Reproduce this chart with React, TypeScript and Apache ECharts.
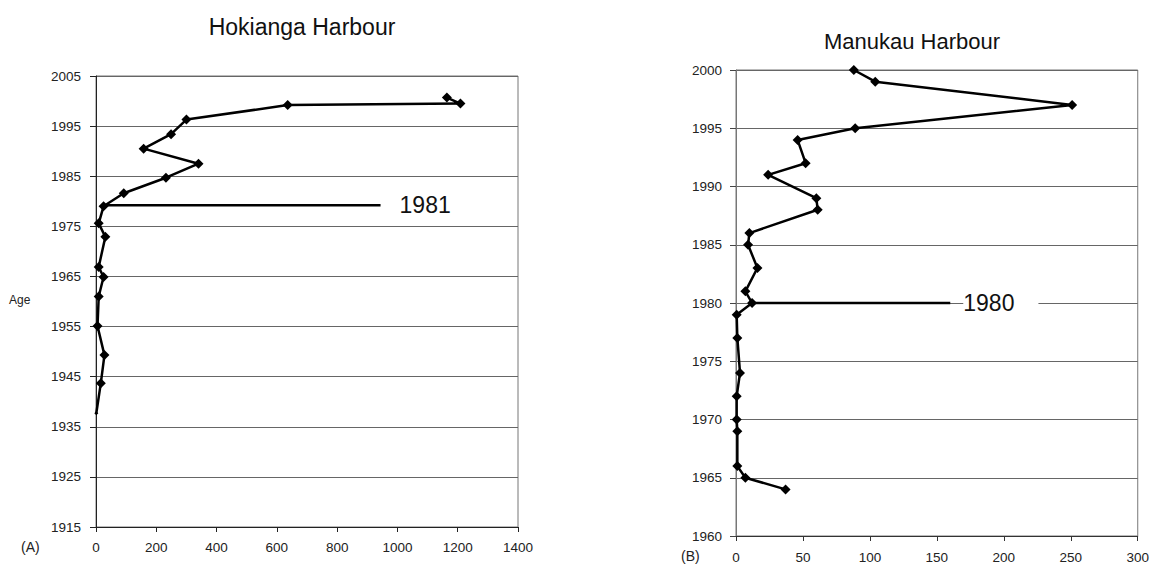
import React, { useEffect, useRef } from 'react';
import * as echarts from 'echarts';

// Hokianga Harbour (A)
const hokiangaValues = [1, 16, 28, 5, 9, 25, 9, 31, 9, 25, 92, 232, 340, 158, 249, 300, 636, 1209, 1164];
const hokiangaYears = [1937.7, 1943.7, 1949.3, 1955.1, 1961.0, 1964.9, 1966.9, 1972.9, 1975.6, 1979.0, 1981.6, 1984.7, 1987.5, 1990.5, 1993.4, 1996.3, 1999.2, 1999.5, 2000.7];
const hokiangaMarkerValues = [25, 944];
const hokiangaMarkerYear = 1979.2;
const hokiangaMarkerLabel = '1981';
const hokiangaYearTicks = [1915, 1925, 1935, 1945, 1955, 1965, 1975, 1985, 1995, 2005];
const hokiangaXTicks = [0, 200, 400, 600, 800, 1000, 1200, 1400];

// Manukau Harbour (B)
const manukauYears = [1964, 1965, 1966, 1969, 1970, 1972, 1974, 1977, 1979, 1980, 1981, 1983, 1985, 1986, 1988, 1989, 1991, 1992, 1994, 1995, 1997, 1999, 2000];
const manukauValues = [37, 7, 1, 1, 0.5, 0.5, 3, 1, 0.5, 12, 7, 16, 9, 10, 61, 60, 24, 52, 46, 89, 251, 104, 88];
const manukauMarkerValues = [12, 160];
const manukauMarkerYear = 1980;
const manukauMarkerLabel = '1980';
const manukauYearTicks = [1960, 1965, 1970, 1975, 1980, 1985, 1990, 1995, 2000];
const manukauXTicks = [0, 50, 100, 150, 200, 250, 300];

const FONT = "'Liberation Sans', Arial, Helvetica, sans-serif";

export default function App() {
  const ref = useRef<HTMLDivElement>(null);

  useEffect(() => {
    if (!ref.current) return;
    const chart = echarts.init(ref.current, undefined, { renderer: 'svg' });

    const hBase = hokiangaYearTicks[0];
    const hStep = hokiangaYearTicks[1] - hokiangaYearTicks[0];
    const hMax = hokiangaYearTicks[hokiangaYearTicks.length - 1] - hBase;

    const axisLabelStyle = { fontFamily: FONT, fontSize: 13.5, color: '#222' };
    const plain = (v: number) => String(v);

    const mainLine = {
      type: 'line',
      symbol: 'diamond',
      symbolSize: 10,
      itemStyle: { color: '#000' },
      lineStyle: { color: '#000', width: 2.5 },
      z: 5,
    };

    const option: any = {
      animation: false,
      backgroundColor: '#fff',
      title: [
        {
          text: 'Hokianga Harbour',
          left: 302,
          top: 15,
          textAlign: 'center',
          padding: 0,
          textStyle: { fontFamily: FONT, fontSize: 23, fontWeight: 'normal', color: '#111' },
        },
        {
          text: 'Manukau Harbour',
          left: 912,
          top: 30,
          textAlign: 'center',
          padding: 0,
          textStyle: { fontFamily: FONT, fontSize: 22, fontWeight: 'normal', color: '#111' },
        },
      ],
      grid: [
        { left: 96, top: 76, width: 422, height: 451, show: true, borderColor: '#777', borderWidth: 1, backgroundColor: 'transparent' },
        { left: 736, top: 70, width: 405, height: 466, show: true, borderColor: '#777', borderWidth: 1, backgroundColor: 'transparent' },
      ],
      xAxis: [
        {
          gridIndex: 0,
          type: 'value',
          min: hokiangaXTicks[0],
          max: hokiangaXTicks[hokiangaXTicks.length - 1],
          interval: hokiangaXTicks[1] - hokiangaXTicks[0],
          axisLine: { show: true, onZero: false, lineStyle: { color: '#222', width: 1 } },
          axisTick: { show: true, inside: false, length: 5, lineStyle: { color: '#222' } },
          axisLabel: { ...axisLabelStyle, margin: 13, formatter: plain },
          splitLine: { show: false },
        },
        {
          gridIndex: 1,
          type: 'value',
          min: manukauXTicks[0],
          max: manukauXTicks[manukauXTicks.length - 1],
          interval: manukauXTicks[1] - manukauXTicks[0],
          axisLine: { show: true, onZero: false, lineStyle: { color: '#333', width: 1 } },
          axisTick: { show: true, inside: false, length: 5, lineStyle: { color: '#333' } },
          axisLabel: { ...axisLabelStyle, margin: 14, formatter: plain },
          splitLine: { show: false },
        },
      ],
      yAxis: [
        {
          gridIndex: 0,
          type: 'value',
          min: 0,
          max: hMax,
          interval: hStep,
          axisLine: { show: true, onZero: false, lineStyle: { color: '#222', width: 1 } },
          axisTick: { show: true, inside: false, length: 6, lineStyle: { color: '#222' } },
          axisLabel: { ...axisLabelStyle, margin: 15, formatter: (v: number) => String(v + hBase) },
          splitLine: { show: true, lineStyle: { color: '#666', width: 1 } },
        },
        {
          gridIndex: 1,
          type: 'value',
          min: manukauYearTicks[0],
          max: manukauYearTicks[manukauYearTicks.length - 1],
          interval: manukauYearTicks[1] - manukauYearTicks[0],
          axisLine: { show: true, onZero: false, lineStyle: { color: '#777', width: 1 } },
          axisTick: { show: true, inside: false, length: 6, lineStyle: { color: '#444' } },
          axisLabel: { ...axisLabelStyle, margin: 14, formatter: plain },
          splitLine: { show: true, lineStyle: { color: '#666', width: 1 } },
        },
      ],
      series: [
        {
          ...mainLine,
          name: 'Hokianga',
          xAxisIndex: 0,
          yAxisIndex: 0,
          data: hokiangaValues.map((v, i) => ({
            value: [v, hokiangaYears[i] - hBase],
            symbolSize: i === 0 ? 4 : 10,
          })),
        },
        {
          type: 'line',
          name: 'Hokianga marker',
          xAxisIndex: 0,
          yAxisIndex: 0,
          symbol: 'none',
          lineStyle: { color: '#000', width: 2.5 },
          data: hokiangaMarkerValues.map((v) => [v, hokiangaMarkerYear - hBase]),
          endLabel: {
            show: true,
            formatter: hokiangaMarkerLabel,
            distance: 19,
            fontFamily: FONT,
            fontSize: 23,
            color: '#111',
          },
          z: 4,
        },
        {
          ...mainLine,
          name: 'Manukau',
          xAxisIndex: 1,
          yAxisIndex: 1,
          data: manukauValues.map((v, i) => [v, manukauYears[i]]),
        },
        {
          type: 'line',
          name: 'Manukau marker',
          xAxisIndex: 1,
          yAxisIndex: 1,
          symbol: 'none',
          lineStyle: { color: '#000', width: 2.5 },
          data: manukauMarkerValues.map((v) => [v, manukauMarkerYear]),
          endLabel: {
            show: true,
            formatter: manukauMarkerLabel,
            distance: 13,
            fontFamily: FONT,
            fontSize: 23,
            color: '#111',
            backgroundColor: '#fff',
            padding: [0, 24, 0, 0],
          },
          z: 4,
        },
      ],
      graphic: [
        {
          type: 'text',
          left: 9,
          top: 294,
          style: { text: 'Age', fontFamily: FONT, fontSize: 12, fill: '#222' },
        },
        {
          type: 'text',
          left: 21,
          top: 540,
          style: { text: '(A)', fontFamily: FONT, fontSize: 14, fill: '#222' },
        },
        {
          type: 'text',
          left: 681,
          top: 549,
          style: { text: '(B)', fontFamily: FONT, fontSize: 14, fill: '#222' },
        },
      ],
    };

    chart.setOption(option);
    return () => {
      chart.dispose();
    };
  }, []);

  return (
    <div
      ref={ref}
      style={{ position: 'absolute', left: 0, top: 0, width: 1152, height: 565, background: '#fff' }}
    />
  );
}
